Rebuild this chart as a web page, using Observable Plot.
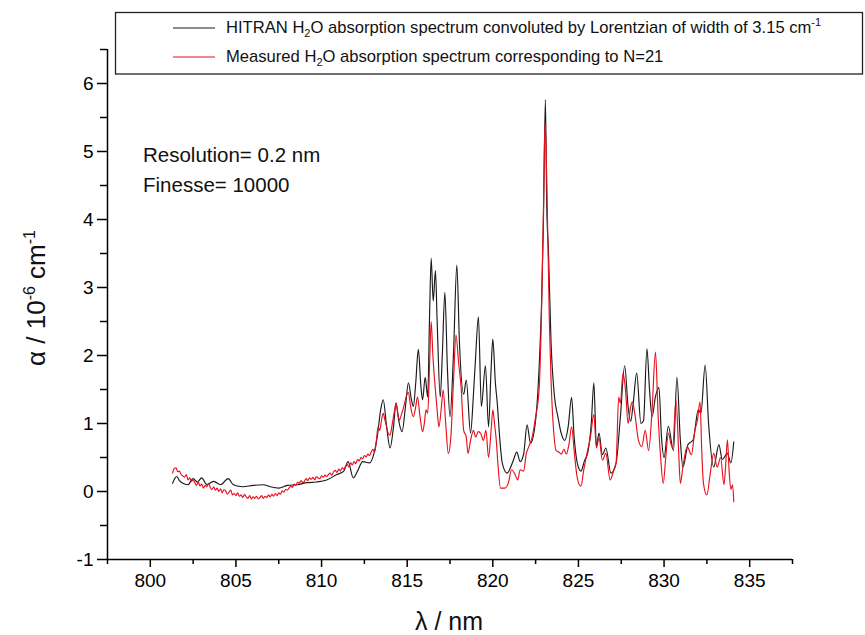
<!DOCTYPE html>
<html><head><meta charset="utf-8">
<script src="https://cdn.jsdelivr.net/npm/d3@7"></script>
<script src="https://cdn.jsdelivr.net/npm/@observablehq/plot@0.6"></script>
<style>body{margin:0;background:#fff;}</style>
</head><body><div id="chart"></div>
<script>
const hitranNm = [801.30,801.45,801.55,801.70,801.85,802.20,802.50,802.75,803.00,803.30,803.70,804.10,804.55,804.85,805.40,806.00,806.60,807.00,807.50,808.00,808.60,809.15,809.70,810.30,810.90,811.30,811.55,811.85,812.10,812.40,812.80,813.05,813.25,813.45,813.60,813.80,814.00,814.20,814.35,814.50,814.70,814.90,815.07,815.25,815.36,815.50,815.65,815.80,815.90,816.05,816.20,816.30,816.40,816.52,816.65,816.75,816.93,817.05,817.20,817.35,817.50,817.70,817.90,818.05,818.30,818.45,818.70,818.87,819.00,819.16,819.33,819.57,819.75,819.90,820.00,820.15,820.26,820.40,820.55,820.83,821.20,821.40,821.60,821.80,822.00,822.20,822.50,822.70,822.85,822.95,823.07,823.15,823.25,823.40,823.60,823.80,824.00,824.20,824.40,824.60,824.75,824.95,825.15,825.35,825.55,825.75,825.90,826.05,826.20,826.40,826.60,826.90,827.20,827.45,827.70,827.90,828.05,828.20,828.40,828.65,828.80,829.00,829.15,829.30,829.50,829.70,829.85,830.00,830.25,830.55,830.75,830.95,831.10,831.40,831.70,832.00,832.15,832.40,832.60,832.90,833.20,833.40,833.70,833.90,834.07];
const hitranAlpha = [0.12,0.20,0.22,0.16,0.13,0.10,0.19,0.14,0.20,0.10,0.15,0.10,0.19,0.10,0.07,0.09,0.10,0.07,0.05,0.09,0.10,0.13,0.14,0.17,0.25,0.30,0.44,0.20,0.30,0.44,0.42,0.55,0.80,1.20,1.35,0.95,0.64,0.95,1.30,1.05,0.88,1.25,1.60,1.35,1.25,1.60,2.09,1.55,1.35,1.68,1.39,2.50,3.43,2.80,3.25,2.50,1.39,2.00,2.93,1.80,1.10,2.00,3.33,2.20,1.43,1.64,0.86,1.43,2.00,2.57,1.25,1.85,0.95,1.80,2.24,1.60,1.30,0.80,0.42,0.27,0.46,0.58,0.44,0.55,0.98,0.71,1.05,1.80,2.80,3.90,5.76,4.20,3.52,2.20,1.40,1.10,0.85,0.75,0.95,1.38,0.80,0.40,0.30,0.45,0.58,1.00,1.60,0.66,0.86,0.54,0.64,0.27,0.42,1.10,1.85,1.25,1.03,1.30,1.74,1.00,1.04,2.10,1.50,1.10,1.40,1.53,0.80,0.50,0.96,0.60,1.68,0.76,0.36,0.69,0.76,1.20,1.15,1.86,1.00,0.36,0.69,0.47,0.56,0.42,0.73];

const measuredNm = [801.30,801.40,801.50,801.60,801.70,801.80,801.90,802.00,802.10,802.20,802.30,802.40,802.50,802.60,802.70,802.80,802.90,803.00,803.10,803.20,803.30,803.40,803.50,803.60,803.70,803.80,803.90,804.00,804.10,804.20,804.30,804.40,804.50,804.60,804.70,804.80,804.90,805.00,805.10,805.20,805.30,805.40,805.50,805.60,805.70,805.80,805.90,806.00,806.10,806.20,806.30,806.40,806.50,806.60,806.70,806.80,806.90,807.00,807.10,807.20,807.30,807.40,807.50,807.60,807.70,807.80,807.90,808.00,808.10,808.20,808.30,808.40,808.50,808.60,808.70,808.80,808.90,809.00,809.10,809.20,809.30,809.40,809.50,809.60,809.70,809.80,809.90,810.00,810.10,810.20,810.30,810.40,810.50,810.60,810.70,810.80,810.90,811.00,811.10,811.20,811.30,811.40,811.50,811.60,811.70,811.80,811.90,812.00,812.10,812.20,812.30,812.40,812.50,812.60,812.70,812.80,812.90,813.00,813.10,813.20,813.30,813.40,813.50,813.60,813.70,813.80,813.90,814.00,814.10,814.20,814.30,814.35,814.45,814.55,814.65,814.75,814.85,814.95,815.07,815.20,815.36,815.50,815.60,815.75,815.90,816.00,816.10,816.20,816.30,816.40,816.50,816.60,816.75,816.85,817.00,817.10,817.25,817.40,817.55,817.70,817.85,818.00,818.15,818.30,818.45,818.55,818.70,818.87,819.00,819.15,819.30,819.45,819.60,819.75,819.90,820.00,820.10,820.20,820.30,820.45,820.70,820.90,821.10,821.30,821.45,821.60,821.80,821.95,822.10,822.30,822.50,822.70,822.85,822.98,823.05,823.15,823.30,823.40,823.55,823.70,823.85,824.00,824.15,824.30,824.45,824.60,824.75,824.90,825.05,825.15,825.30,825.50,825.70,825.90,826.05,826.20,826.40,826.60,826.85,827.05,827.20,827.35,827.45,827.60,827.75,827.90,828.05,828.15,828.30,828.50,828.70,828.90,829.10,829.30,829.50,829.65,829.80,829.95,830.10,830.25,830.40,830.50,830.70,830.85,830.95,831.10,831.35,831.60,831.80,831.95,832.10,832.20,832.30,832.50,832.70,832.90,833.10,833.30,833.50,833.60,833.70,833.80,833.90,834.00,834.07];
const measuredAlpha = [0.27,0.34,0.35,0.29,0.30,0.25,0.23,0.21,0.25,0.17,0.20,0.15,0.17,0.13,0.09,0.14,0.08,0.11,0.05,0.09,0.07,0.12,0.06,0.03,0.07,0.02,0.05,0.00,0.04,-0.02,0.03,0.01,-0.04,-0.01,0.02,-0.05,-0.03,-0.06,-0.02,-0.07,-0.05,-0.09,-0.04,-0.08,-0.10,-0.06,-0.11,-0.08,-0.10,-0.07,-0.11,-0.09,-0.06,-0.10,-0.07,-0.09,-0.05,-0.08,-0.04,-0.07,-0.03,-0.06,-0.02,-0.04,0.01,-0.01,0.03,0.02,0.05,0.08,0.06,0.11,0.09,0.14,0.12,0.16,0.13,0.15,0.19,0.16,0.20,0.18,0.21,0.17,0.22,0.20,0.19,0.23,0.21,0.24,0.22,0.25,0.27,0.24,0.29,0.31,0.28,0.33,0.30,0.35,0.33,0.37,0.40,0.36,0.42,0.39,0.44,0.41,0.47,0.45,0.50,0.48,0.53,0.51,0.55,0.53,0.58,0.62,0.58,0.75,0.95,0.90,1.05,1.15,1.05,0.95,0.85,0.83,0.95,1.10,1.25,1.30,1.15,1.05,1.12,1.20,1.30,1.40,1.46,1.25,1.10,1.25,1.39,1.10,0.88,1.00,1.20,1.15,1.80,2.50,2.00,1.64,1.20,0.95,1.25,1.49,1.00,0.56,0.80,1.60,2.30,1.90,1.53,0.90,0.80,0.56,0.75,0.90,0.80,0.88,0.85,0.75,0.90,0.50,0.90,1.20,1.00,0.76,0.40,0.05,0.05,0.12,0.32,0.25,0.17,0.32,0.30,0.55,0.66,0.80,1.10,1.49,2.70,4.50,5.44,4.60,2.52,1.64,0.90,0.60,0.58,0.55,0.62,0.55,0.70,0.95,0.60,0.25,0.10,0.08,0.30,0.56,0.80,1.13,0.64,0.79,0.46,0.56,0.17,0.30,0.42,1.39,1.30,1.74,1.49,1.00,1.25,1.32,1.13,0.76,0.66,0.90,0.60,1.20,2.05,1.13,0.50,0.12,0.50,0.86,0.70,0.64,1.35,0.60,0.12,0.36,0.66,0.54,0.90,1.05,1.32,0.60,0.12,-0.05,0.27,0.56,0.36,0.50,0.10,0.40,0.76,0.30,0.03,0.10,-0.15];

const xMajorTicks = [800,805,810,815,820,825,830,835];
const xMinorTicks = [797.5,802.5,807.5,812.5,817.5,822.5,827.5,832.5,837.5];
const yMajorTicks = [-1,0,1,2,3,4,5,6];
const yMinorTicks = [-0.5,0.5,1.5,2.5,3.5,4.5,5.5,6.5];

const hitran = hitranNm.map((x, i) => ({x, y: hitranAlpha[i]}));
const measured = measuredNm.map((x, i) => ({x, y: measuredAlpha[i]}));

const FONT = '"Liberation Sans", Arial, sans-serif';
const plot = Plot.plot({
  width: 865, height: 635,
  marginLeft: 107, marginRight: 73, marginTop: 49, marginBottom: 76,
  x: {domain: [797.5, 837.5]},
  y: {domain: [-1, 6.5]},
  style: {fontFamily: FONT, fontSize: "19px", color: "#000", background: "#fff", overflow: "visible"},
  marks: [
    Plot.axisX({ticks: xMinorTicks, tickSize: 5, strokeWidth: 1.5, tickFormat: () => "", label: null}),
    Plot.axisX({ticks: xMajorTicks, tickSize: 8, strokeWidth: 1.5, tickPadding: 6, tickFormat: d => String(d), label: null}),
    Plot.axisY({ticks: yMinorTicks, tickSize: 7, strokeWidth: 1.5, tickFormat: () => "", label: null}),
    Plot.axisY({ticks: yMajorTicks, tickSize: 10, strokeWidth: 1.5, tickPadding: 4, tickFormat: d => String(d), label: null}),
    Plot.ruleY([-1], {strokeWidth: 1.5}),
    Plot.ruleX([797.5], {strokeWidth: 1.5}),
    Plot.line(hitran, {x: "x", y: "y", stroke: "#1a1a1a", strokeWidth: 1.15, curve: "monotone-x"}),
    Plot.line(measured, {x: "x", y: "y", stroke: "#e8101c", strokeWidth: 1.15, curve: "monotone-x"})
  ]
});
document.getElementById("chart").appendChild(plot);

const svg = d3.select(plot);
// legend box
const lg = svg.append("g").attr("font-family", FONT).attr("font-size", 16.6).attr("fill", "#111").attr("text-anchor", "start");
lg.append("rect").attr("x", 115.5).attr("y", 12.5).attr("width", 747).attr("height", 61.5)
  .attr("fill", "#fff").attr("stroke", "#222").attr("stroke-width", 1.3);
lg.append("line").attr("x1", 173).attr("x2", 215).attr("y1", 28).attr("y2", 28).attr("stroke", "#1a1a1a").attr("stroke-width", 1.1);
lg.append("line").attr("x1", 173).attr("x2", 215).attr("y1", 57).attr("y2", 57).attr("stroke", "#e8101c").attr("stroke-width", 1.1);
const t1 = lg.append("text").attr("x", 226).attr("y", 33);
t1.append("tspan").text("HITRAN H");
t1.append("tspan").attr("dy", 4).attr("font-size", 11).text("2");
t1.append("tspan").attr("dy", -4).text("O absorption spectrum convoluted by Lorentzian of width of 3.15 cm");
t1.append("tspan").attr("dy", -7).attr("font-size", 11).text("-1");
const t2 = lg.append("text").attr("x", 226).attr("y", 62);
t2.append("tspan").text("Measured H");
t2.append("tspan").attr("dy", 4).attr("font-size", 11).text("2");
t2.append("tspan").attr("dy", -4).text("O absorption spectrum corresponding to N=21");

// annotations
const an = svg.append("g").attr("font-family", FONT).attr("font-size", 20.5).attr("fill", "#111").attr("text-anchor", "start");
an.append("text").attr("x", 143).attr("y", 162).text("Resolution= 0.2 nm");
an.append("text").attr("x", 143).attr("y", 192).text("Finesse= 10000");

// axis titles
svg.append("text").attr("x", 449).attr("y", 630).attr("text-anchor", "middle")
  .attr("font-family", FONT).attr("font-size", 25).attr("fill", "#111").text("λ / nm");
const yt = svg.append("text").attr("transform", "translate(45,298) rotate(-90)").attr("text-anchor", "middle")
  .attr("font-family", FONT).attr("font-size", 26).attr("fill", "#111");
yt.append("tspan").text("α / 10");
yt.append("tspan").attr("dy", -10).attr("font-size", 16).text("-6");
yt.append("tspan").attr("dy", 10).text(" cm");
yt.append("tspan").attr("dy", -10).attr("font-size", 16).text("-1");
</script>
</body></html>
